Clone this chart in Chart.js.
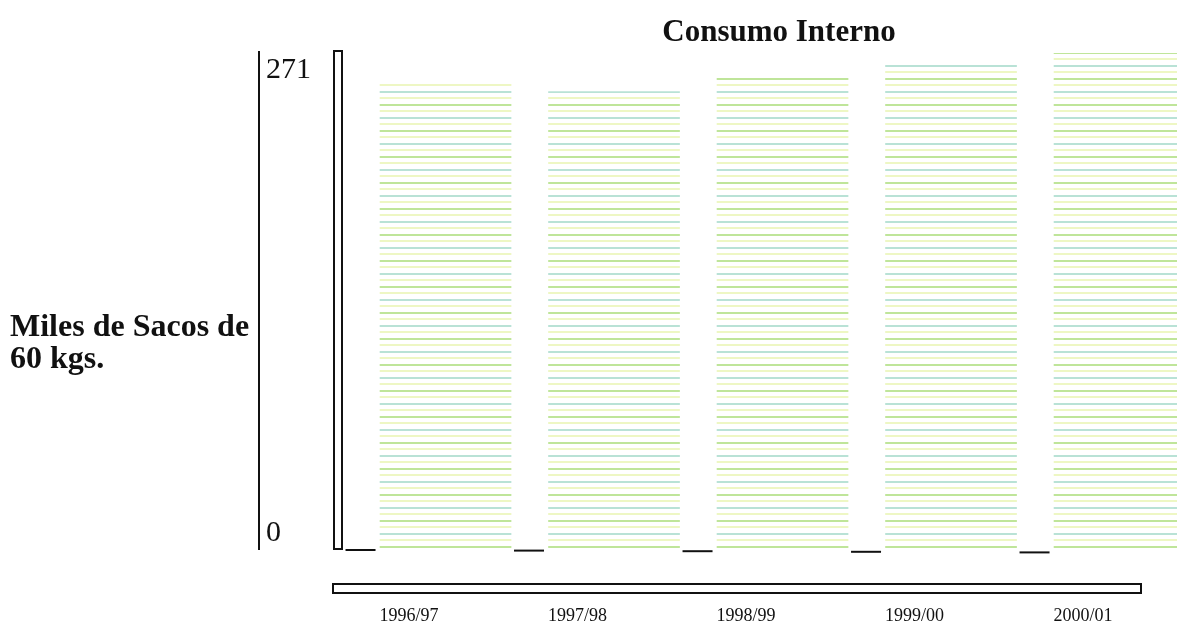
<!DOCTYPE html>
<html>
<head>
<meta charset="utf-8">
<script src="https://cdn.jsdelivr.net/npm/chart.js@4.4.0/dist/chart.umd.min.js"></script>
<style>
  html, body { margin: 0; padding: 0; background: #fff; }
  #wrap { width: 1177px; height: 635px; position: relative; }
</style>
</head>
<body>
<div id="wrap"><canvas id="canvasId"></canvas></div>
<script>
// data
const categories = ['1996/97', '1997/98', '1998/99', '1999/00', '2000/01'];
const consumo = [256, 250, 258, 265, 271];
const yTicks = [0, 271];

const serif = '"Liberation Serif", "Times New Roman", serif';

// striped fill like the scanned bars
const makeStripes = () => {
    const c = document.createElement('canvas');
    c.width = 8;
    c.height = 26;
    const g = c.getContext('2d');
    g.fillStyle = '#ffffff';
    g.fillRect(0, 0, 8, 26);
    g.fillStyle = '#bfe59a';
    g.fillRect(0, 0, 8, 2);
    g.fillStyle = '#eef7c4';
    g.fillRect(0, 6, 8, 2);
    g.fillStyle = '#b9e2d6';
    g.fillRect(0, 13, 8, 2);
    g.fillStyle = '#eef7c4';
    g.fillRect(0, 19, 8, 2);
    return g.createPattern(c, 'repeat');
};

const decor = {
    id: 'decor',
    beforeDatasetsDraw(chart) {
        const { ctx, chartArea, scales } = chart;
        const y = scales.y;
        ctx.save();
        ctx.strokeStyle = '#111';
        ctx.lineWidth = 2;

        // value axis line
        ctx.beginPath();
        ctx.moveTo(259, y.getPixelForValue(271) - 2);
        ctx.lineTo(259, y.getPixelForValue(0) - 2);
        ctx.stroke();

        // back wall
        ctx.strokeRect(334, chartArea.top - 2, 8, chartArea.bottom - chartArea.top - 1);

        // floor
        ctx.strokeRect(333, 584, 808, 9);

        // tick labels
        ctx.fillStyle = '#111';
        ctx.font = '30px ' + serif;
        ctx.textAlign = 'left';
        ctx.textBaseline = 'middle';
        ctx.fillText(String(yTicks[1]), 266, y.getPixelForValue(yTicks[1]) + 17);
        ctx.fillText(String(yTicks[0]), 266, y.getPixelForValue(yTicks[0]) - 19);

        // shadows at bar feet
        const meta = chart.getDatasetMeta(0);
        meta.data.forEach((bar, i) => {
            const yy = bar.base - 2 + i * 0.6;
            ctx.beginPath();
            ctx.moveTo(bar.x - 100, yy);
            ctx.lineTo(bar.x - 70, yy);
            ctx.stroke();
        });

        // title and value-axis caption
        ctx.font = 'bold 31px ' + serif;
        ctx.textAlign = 'center';
        ctx.textBaseline = 'alphabetic';
        ctx.fillText('Consumo Interno', 779, 41);
        ctx.font = 'bold 32px ' + serif;
        ctx.textAlign = 'left';
        ctx.fillText('Miles de Sacos de', 10, 336);
        ctx.fillText('60 kgs.', 10, 368);
        ctx.restore();
    }
};

const ctx = document.querySelector('#canvasId');

const config = {
    type: 'bar',
    data: {
        datasets: [{
            label: 'Consumo Interno',
            data: consumo.map((v, i) => ({ x: i, y: v })),
            backgroundColor: makeStripes(),
            borderWidth: 0,
            barThickness: 131,
        }],
    },
    options: {
        animation: false,
        responsive: true,
        maintainAspectRatio: false,
        layout: {
            padding: { top: 53, left: 260, right: 0, bottom: 0 },
        },
        scales: {
            x: {
                type: 'linear',
                min: -1.101,
                max: 4.341,
                offset: false,
                display: false,
            },
            x2: {
                type: 'linear',
                position: 'bottom',
                min: -0.884,
                max: 4.558,
                offset: false,
                grid: { display: false, drawTicks: false },
                border: { display: false },
                afterBuildTicks: (s) => { s.ticks = categories.map((c, i) => ({ value: i })); },
                afterFit: (s) => { s.height = 83; },
                ticks: {
                    padding: 53,
                    autoSkip: false,
                    maxRotation: 0,
                    color: '#111',
                    font: { family: serif, size: 18 },
                    callback: (v) => categories[v],
                },
            },
            y: {
                min: 0,
                max: 271,
                display: false,
            },
        },
        plugins: {
            legend: { display: false },
            title: { display: false },
            tooltip: { enabled: false },
        },
    },
    plugins: [decor],
};

new Chart(ctx, config);
</script>
</body>
</html>
